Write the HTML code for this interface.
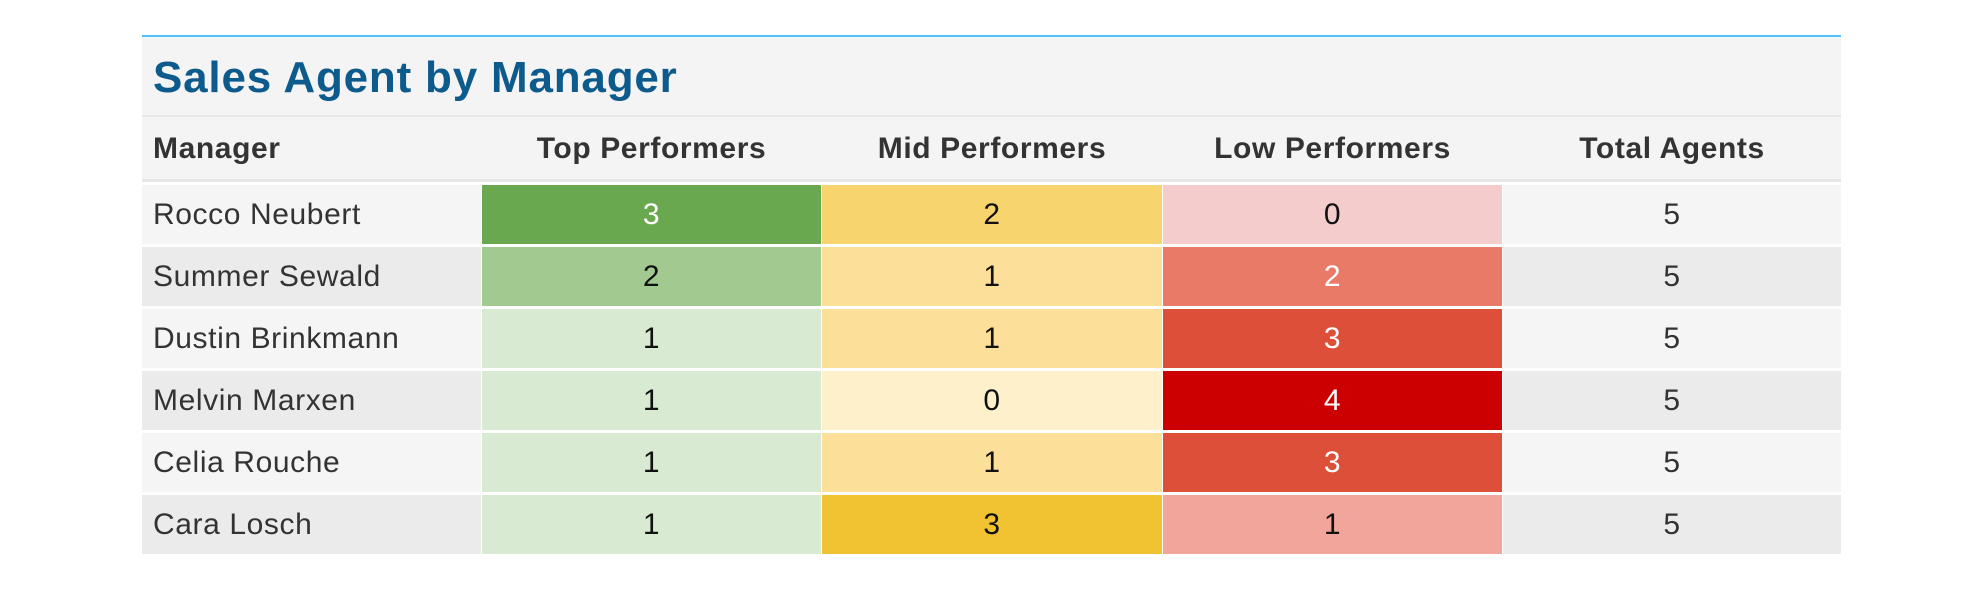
<!DOCTYPE html>
<html><head><meta charset="utf-8"><style>
body{margin:0;width:1984px;height:596px;background:#fff;font-family:"Liberation Sans",sans-serif;position:relative;overflow:hidden}
.a{position:absolute;box-sizing:border-box}
.cell{display:flex;align-items:center;justify-content:center;font-size:30px;letter-spacing:0.6px;color:#222}
.name{justify-content:flex-start;padding-left:11px;color:#333}
.hd{font-weight:bold;font-size:30px;letter-spacing:0.6px;color:#333;display:flex;align-items:center;justify-content:center}
</style></head><body>
<div class="a" style="left:142px;top:35px;width:1699px;height:2px;background:#4fc3f7"></div>
<div class="a" style="left:142px;top:37px;width:1699px;height:78px;background:#f4f4f4"></div>
<div class="a" style="left:153px;top:53px;font-size:44px;letter-spacing:0.8px;font-weight:bold;color:#0d5a8c">Sales Agent by Manager</div>
<div class="a" style="left:142px;top:115px;width:1699px;height:67px;background:#f4f4f4;border-top:2px solid #e8e8e8;border-bottom:3px solid #e6e6e6"></div>
<div id="tbl"></div>
<script>
const managers=["Rocco Neubert","Summer Sewald","Dustin Brinkmann","Melvin Marxen","Celia Rouche","Cara Losch"];
const topPerf=[3,2,1,1,1,1];
const midPerf=[2,1,1,0,1,3];
const lowPerf=[0,2,3,4,3,1];
const totals=[5,5,5,5,5,5];
const headers=["Manager","Top Performers","Mid Performers","Low Performers","Total Agents"];
const greens=["#ffffff","#d9ead3","#a2c98f","#6aa84f","#4a8a30"];
const yellows=["#fff0cc","#fce099","#f8d46f","#f1c232","#e0b020"];
const reds=["#f4cccc","#f2a59a","#ea7a68","#dd4f38","#cc0000"];
const colX=[142,482,822,1163,1503], colW=[339,339,340,339,338];
const tbl=document.getElementById('tbl');
headers.forEach((h,i)=>{
  const d=document.createElement('div');
  d.className='a hd';
  
  
  d.style.cssText=`left:${colX[i]}px;top:118px;width:${colW[i]}px;height:62px;`+(i==0?'justify-content:flex-start;padding-left:11px;':'');
  d.textContent=h;tbl.appendChild(d);
});
function add(x,y,w,bg,txt,col,cls){
  const d=document.createElement('div');
  d.className='a cell'+(cls?' '+cls:'');
  
  
  d.style.cssText=`left:${x}px;top:${y}px;width:${w}px;height:59px;background:${bg};color:${col}`;
  d.textContent=txt;tbl.appendChild(d);
}
managers.forEach((m,r)=>{
  const y=185+r*62;
  const bg=r%2?'#ebebeb':'#f5f5f5';
  add(colX[0],y,colW[0],bg,m,'#333','name');
  add(colX[1],y,colW[1],greens[topPerf[r]],topPerf[r],topPerf[r]>=3?'#fff':'#111');
  add(colX[2],y,colW[2],yellows[midPerf[r]],midPerf[r],'#111');
  add(colX[3],y,colW[3],reds[lowPerf[r]],lowPerf[r],lowPerf[r]>=2?'#fff':'#111');
  add(colX[4],y,colW[4],bg,totals[r],'#333');
});
</script>
</body></html>
